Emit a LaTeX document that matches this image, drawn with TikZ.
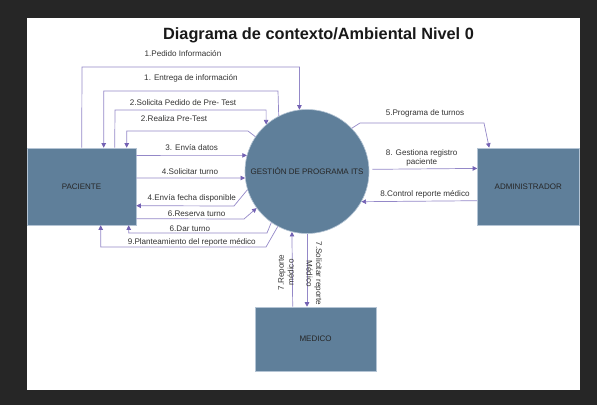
\documentclass[tikz,border=0pt]{standalone}
\usepackage{fontspec}
\setmainfont{Liberation Sans}
\usetikzlibrary{arrows.meta}
\definecolor{bgdark}{HTML}{262626}
\definecolor{boxfill}{HTML}{5F7F9A}
\definecolor{boxedge}{HTML}{B4C4D4}
\definecolor{flowc}{HTML}{9488C8}
\definecolor{headc}{HTML}{7462B4}
\tikzset{
  entity/.style={rectangle, fill=boxfill, draw=boxedge, line width=0.6pt, text=black!85, font=\fontsize{8}{9.5}\selectfont, inner sep=0pt},
  proc/.style={circle, fill=boxfill, draw=boxedge, line width=0.6pt, text=black!85, font=\fontsize{8}{9.5}\selectfont, inner sep=0pt, minimum size=124pt},
  flow/.style={draw=flowc, line width=0.7pt, -{Triangle[length=4.5pt,width=4.5pt,color=headc]}},
  lbl/.style={font=\fontsize{8.1}{9.5}\selectfont, text=black!80, inner sep=0pt, align=center},
  ttl/.style={font=\bfseries\fontsize{16.3}{19}\selectfont, text=black!90, inner sep=0pt}
}
\begin{document}
\begin{tikzpicture}[x=1pt,y=-1pt]
\useasboundingbox (0,0) rectangle (597,405);
\fill[bgdark] (0,0) rectangle (597,405);
\fill[white] (27,18) rectangle (580,390);

\node[ttl] (title) at (318.5,35) {Diagrama de contexto/Ambiental Nivel 0};

\node[entity, minimum width=109pt, minimum height=77pt] (pac) at (81.5,186.5) {PACIENTE};
\node[entity, minimum width=101.5pt, minimum height=77pt] (adm) at (528.25,186.5) {ADMINISTRADOR};
\node[entity, minimum width=121pt, minimum height=64pt] (med) at (315.5,339) {MEDICO};
\node[proc] (gest) at (307,171.5) {GESTIÓN DE PROGRAMA ITS};

% left side flows
\draw[flow] ([xshift=55pt]pac.north west) -- (82,67) -| (gest.97.4);
\draw[flow] (gest.117.9) -- (278,91) -| ([xshift=77pt]pac.north west);
\draw[flow] ([xshift=88pt]pac.north west) -- (115,110) -| (gest.131.4);
\draw[flow] (gest.146.2) -- (248,131) -| ([xshift=100pt]pac.north west);
\draw[flow] ([yshift=-7.7pt]pac.north east) -- (gest.165.2);
\draw[flow] ([yshift=-30.3pt]pac.north east) -- (gest.186.3);
\draw[flow] (gest.197.8) -- (234,206) -- ([yshift=-58pt]pac.north east);
\draw[flow] ([yshift=-71pt]pac.north east) -- (244,219) -- (gest.216.1);
\draw[flow] (gest.235.6) -- (267,233) -| ([xshift=102pt]pac.south west);
\draw[flow] (gest.242.1) -- (266,247) -| ([xshift=74pt]pac.south west);

% right side flows
\draw[flow] (gest.44.7) -- (360,123) -- (484,123) -- ([xshift=12pt]adm.north west);
\draw[flow] ([xshift=3pt]gest.2.6) -- ([yshift=-20.7pt]adm.north west);
\draw[flow] ([yshift=-53pt]adm.north west) -- (gest.331.6);

% bottom flows
\draw[flow] ([xshift=38pt]med.north west) -- (gest.256.9);
\draw[flow] (gest.south) -- (gest.south |- med.north);

% labels
\node[lbl] (l1) at (183,54) {1.Pedido Información};
\node[lbl] (l2) at (191,78) {1. Entrega de información};
\node[lbl] (l3) at (183,102.7) {2.Solicita Pedido de Pre- Test};
\node[lbl] (l4) at (174,119) {2.Realiza Pre-Test};
\node[lbl] (l5) at (191.7,148) {3. Envía datos};
\node[lbl] (l6) at (190,171.7) {4.Solicitar turno};
\node[lbl] (l7) at (191.7,198.3) {4.Envía fecha disponible};
\node[lbl] (l8) at (196.7,214) {6.Reserva turno};
\node[lbl] (l9) at (190,228.7) {6.Dar turno};
\node[lbl] (l10) at (191.7,242) {9.Planteamiento del reporte médico};
\node[lbl] (l11) at (425,113.3) {5.Programa de turnos};
\node[lbl] (l12) at (421.7,158) {8. Gestiona registro\\paciente};
\node[lbl] (l13) at (425,194.3) {8.Control reporte médico};
\node[lbl, rotate=90] (l14) at (286,272.5) {7.Reporte\\médico};
\node[lbl, rotate=-90] (l15) at (314.3,273.5) {7.Solicitar reporte\\Médico};
\end{tikzpicture}
\end{document}
